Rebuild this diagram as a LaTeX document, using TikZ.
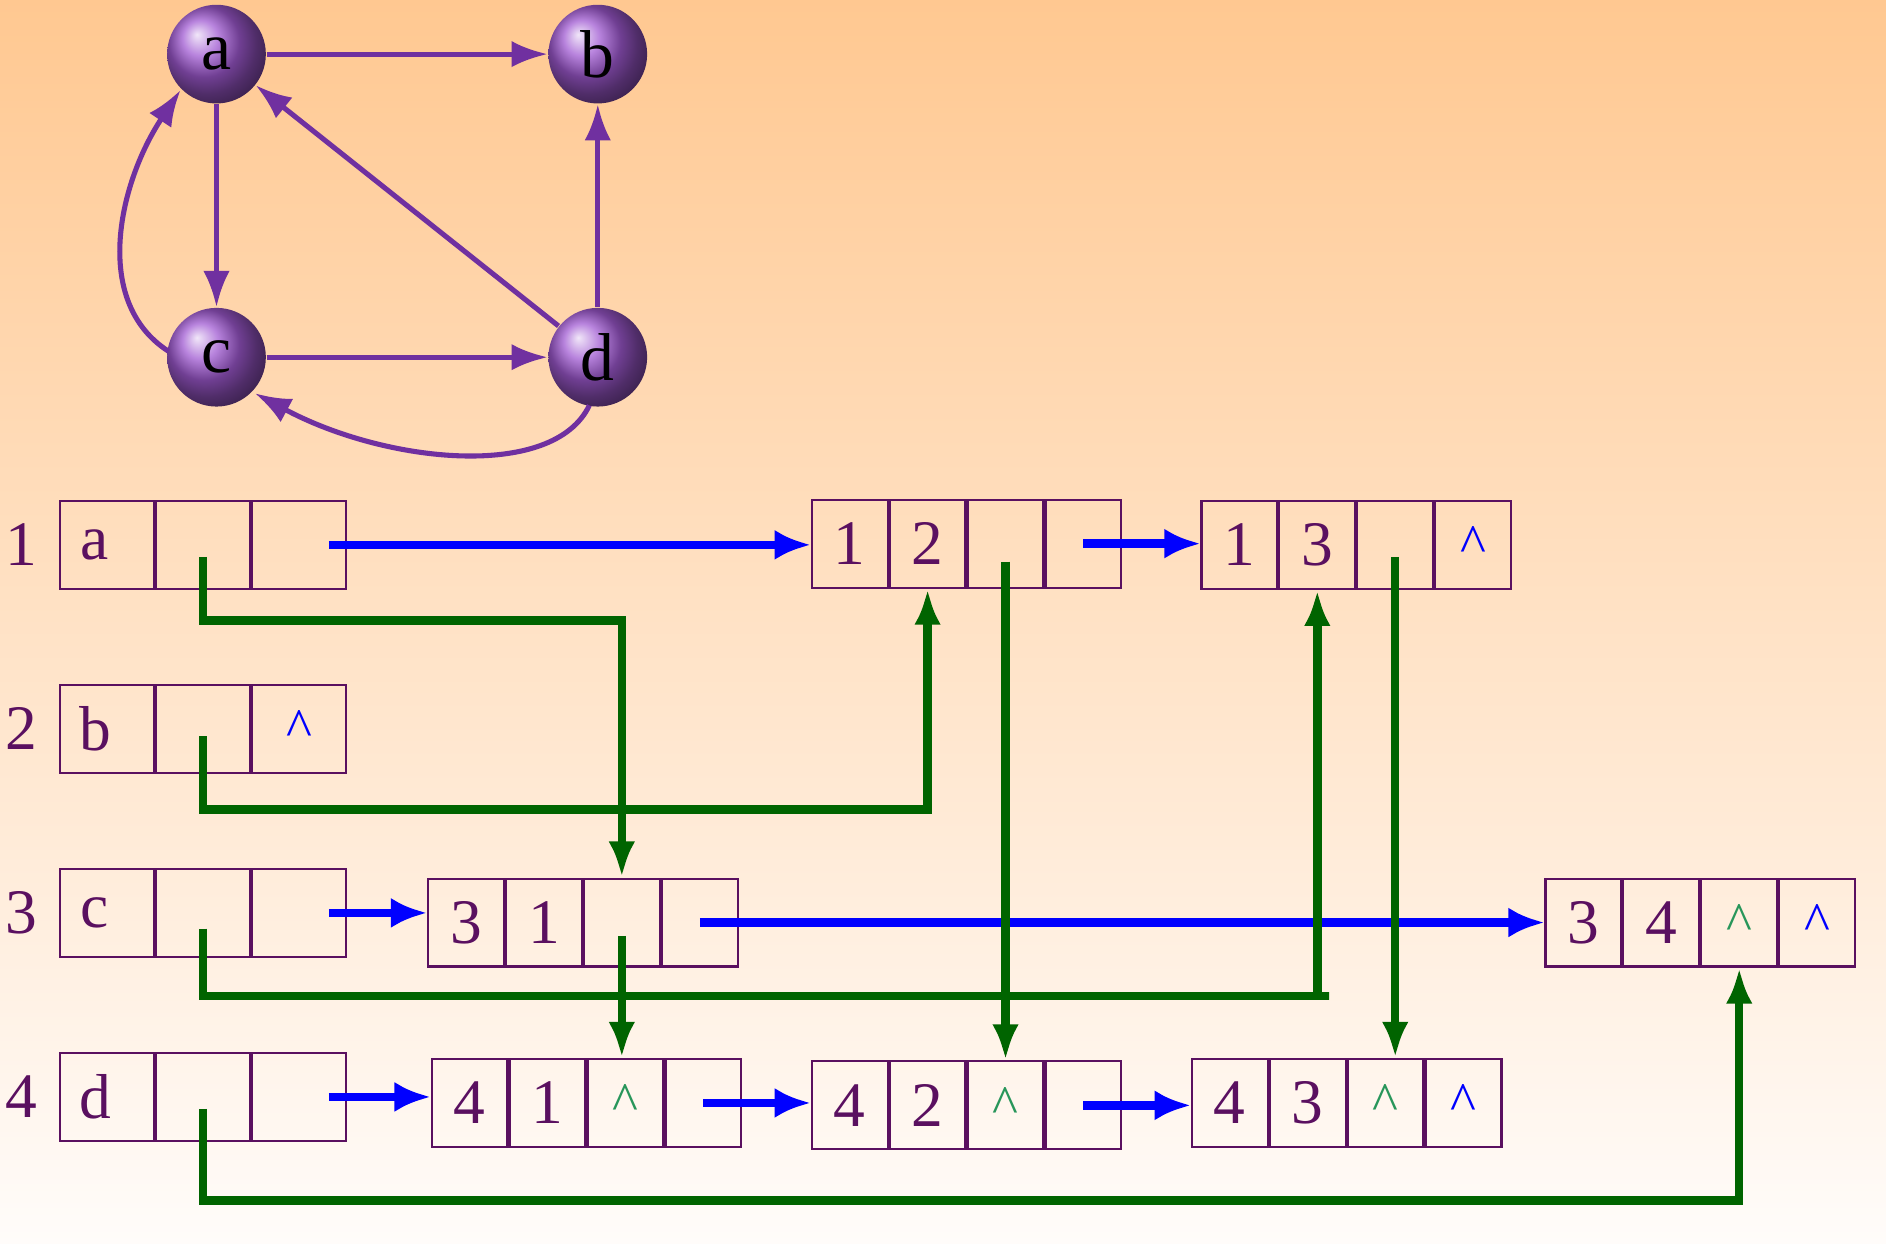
\documentclass[tikz,border=0pt]{standalone}
\usepackage{fontspec}
\setmainfont{Liberation Serif}
\usetikzlibrary{arrows.meta,positioning,shadings}
\definecolor{arcpurple}{RGB}{112,48,160}
\definecolor{txtpurple}{RGB}{90,16,96}
\definecolor{linkgreen}{RGB}{0,100,0}
\definecolor{capgreen}{RGB}{40,150,90}
\tikzset{
  vert/.style={circle,minimum size=0.82cm,inner sep=0pt,ball color={rgb,255:red,160;green,90;blue,210},font=\fontsize{16}{16}\selectfont},
  arc/.style={draw=arcpurple,line width=1.2pt,-{Latex[length=0.3cm,width=0.22cm]}},
  cell/.style={draw=txtpurple,line width=0.5pt,minimum height=0.73cm,minimum width=0.63cm,inner sep=0pt,text=txtpurple,font=\fontsize{15}{15}\selectfont},
  vcell/.style={cell,minimum width=0.78cm},
  next/.style={draw=blue,line width=2pt,-{Latex[length=0.3cm,width=0.25cm]}},
  link/.style={draw=linkgreen,line width=2pt,-{Latex[length=0.3cm,width=0.22cm]}},
}
% edge node with four cells
\newcommand{\enode}[7]{%
  \node[cell,anchor=west] (#1-1) at (#2,#3) {#4};
  \node[cell,right=0pt of #1-1] (#1-2) {#5};
  \node[cell,right=0pt of #1-2] (#1-3) {#6};
  \node[cell,right=0pt of #1-3] (#1-4) {#7};}
% vertex row with three cells
\newcommand{\vrow}[4]{%
  \node[vcell,anchor=west] (v#1-1) at (49,#2) {\hspace*{-0.2cm}#3};
  \node[vcell,right=0pt of v#1-1] (v#1-2) {};
  \node[vcell,right=0pt of v#1-2] (v#1-3) {#4};
  \node[text=txtpurple,font=\fontsize{15}{15}\selectfont] (r#1) at (18,#2) {#1};}
\newcommand{\bnil}{{\color{blue}\fontsize{13}{13}\selectfont\textasciicircum}}
\newcommand{\gnil}{{\color{capgreen}\fontsize{13}{13}\selectfont\textasciicircum}}
\begin{document}
\begin{tikzpicture}[x=0.01cm,y=-0.01cm]
\shade[top color={rgb,255:red,255;green,200;blue,145},bottom color={rgb,255:red,255;green,252;blue,250}] (0,0) rectangle (1568,1034);
\useasboundingbox (0,0) rectangle (1568,1034);

% graph
\node[vert] (a) at (180,45) {a};
\node[vert] (b) at (497,45) {b};
\node[vert] (c) at (180,297) {c};
\node[vert] (d) at (497,297) {d};
\draw[arc] (a) -- (b);
\draw[arc] (a) -- (c);
\draw[arc] (d) -- (b);
\draw[arc] (d) -- (a);
\draw[arc] (c) -- (d);
\draw[arc] (140,292) .. controls (75,250) and (100,150) .. (150,75);
\draw[arc] (490,337) .. controls (460,400) and (320,385) .. (212,327);

% adjacency lists
\vrow{1}{453}{a}{}
\vrow{2}{606}{b}{\bnil}
\vrow{3}{759}{c}{}
\vrow{4}{912}{d}{}
\enode{e12}{674}{452}{1}{2}{}{}
\enode{e13}{998}{453}{1}{3}{}{\bnil}
\enode{e31}{355}{767}{3}{1}{}{}
\enode{e34}{1284}{767}{3}{4}{\gnil}{\bnil}
\enode{e41}{358}{917}{4}{1}{\gnil}{}
\enode{e42}{674}{919}{4}{2}{\gnil}{}
\enode{e43}{990}{917}{4}{3}{\gnil}{\bnil}

\draw[next] ([xshift=0.25cm]v1-3.center) -- (v1-3.center -| e12-1.west);
\draw[next] (e12-4.center) -- (e12-4.center -| e13-1.west);
\draw[next] ([xshift=0.25cm]v3-3.center) -- (v3-3.center -| e31-1.west);
\draw[next] (e31-4.center) -- (e31-4.center -| e34-1.west);
\draw[next] ([xshift=0.25cm]v4-3.center) -- (v4-3.center -| e41-1.west);
\draw[next] (e41-4.center) -- (e41-4.center -| e42-1.west);
\draw[next] (e42-4.center) -- (e42-4.center -| e43-1.west);

\draw[link] ([yshift=-0.1cm]v1-2.center) |- (515,516) -| (e31-3.north);
\draw[link] ([yshift=-0.06cm]v2-2.center) |- (771,673) -| (e12-2.south);
\draw[link] ([yshift=-0.13cm]v3-2.center) |- (1105,828) -| (e13-2.south);
\draw[link] ([yshift=-0.1cm]v4-2.center) |- (1449,998) -| (e34-3.south);
\draw[link] ([yshift=-0.15cm]e12-3.center) -- (e12-3.center |- e42-3.north);
\draw[link] ([yshift=-0.1cm]e13-3.center) -- (e13-3.center |- e43-3.north);
\draw[link] ([yshift=-0.11cm]e31-3.center) -- (e31-3.center |- e41-3.north);
\end{tikzpicture}
\end{document}
